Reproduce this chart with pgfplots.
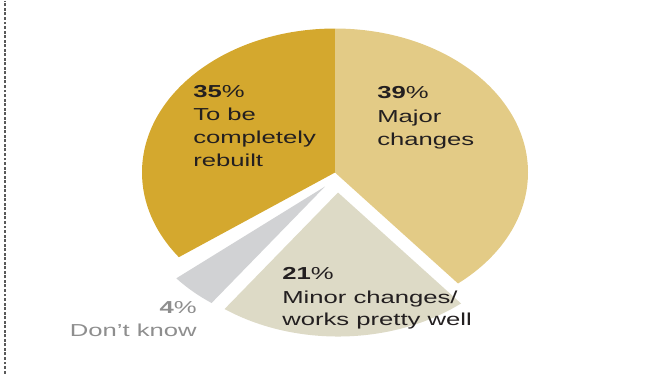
\documentclass[border=0pt]{standalone}
\usepackage{fontspec}
\setmainfont{Liberation Sans}[FakeStretch=1.48]
\usepackage{pgfplots}
\usepackage{pgfplotstable}
\pgfplotsset{compat=1.18}
\definecolor{cRebuilt}{HTML}{D4A82E}
\definecolor{cMajor}{HTML}{E3CB86}
\definecolor{cMinor}{HTML}{DDDAC6}
\definecolor{cDK}{HTML}{D1D2D4}
\definecolor{cText}{HTML}{231F20}
\definecolor{cGray}{HTML}{8E8E8E}

% slice values (percent) and explode offsets (px)
\pgfplotstableread{
label value dx dy
Major 39 0 0
Minor 21 3 -20
DK 4 -10 -14
Rebuilt 35 0 0
}\piedata

\def\cx{335}\def\cy{201}
\def\rx{193}\def\ry{144}
\newcommand\pieslice[5]{% cx cy a0 a1 color
  \fill[#5] (axis cs:#1,#2) -- (axis cs:{#1+\rx*cos(#3)},{#2+\ry*sin(#3)})
    arc[start angle=#3, end angle=#4, x radius=144.75pt, y radius=108pt] -- cycle;}

\begin{document}
\begin{tikzpicture}
\pgfplotstablegetelem{0}{value}\of\piedata \let\vMaj\pgfplotsretval
\pgfplotstablegetelem{1}{value}\of\piedata \let\vMin\pgfplotsretval
\pgfplotstablegetelem{2}{value}\of\piedata \let\vDk\pgfplotsretval
\pgfplotstablegetelem{3}{value}\of\piedata \let\vReb\pgfplotsretval
\pgfplotstablegetelem{1}{dx}\of\piedata \let\dxMin\pgfplotsretval
\pgfplotstablegetelem{1}{dy}\of\piedata \let\dyMin\pgfplotsretval
\pgfplotstablegetelem{2}{dx}\of\piedata \let\dxDk\pgfplotsretval
\pgfplotstablegetelem{2}{dy}\of\piedata \let\dyDk\pgfplotsretval
\pgfmathsetmacro\aMajE{90-3.6*\vMaj}
\pgfmathsetmacro\aMinE{\aMajE-3.6*\vMin}
\pgfmathsetmacro\aDkE{\aMinE-3.6*\vDk}
\pgfmathsetmacro\aRebE{90+3.6*\vReb}
\pgfmathsetmacro\cxMin{\cx+\dxMin}
\pgfmathsetmacro\cyMin{\cy+\dyMin}
\pgfmathsetmacro\cxDk{\cx+\dxDk}
\pgfmathsetmacro\cyDk{\cy+\dyDk}
\begin{axis}[
  scale only axis, width=504pt, height=279.75pt,
  xmin=0, xmax=672, ymin=0, ymax=373,
  hide axis, clip=false,
]
\path (rel axis cs:0,0) rectangle (rel axis cs:1,1);
\addplot[draw=black!65, line width=0.8pt, dash pattern=on 2.2pt off 1.2pt] coordinates {(5,0) (5,373)};
\pieslice{\cx}{\cy}{90}{\aRebE}{cRebuilt}
\pieslice{\cx}{\cy}{90}{\aMajE}{cMajor}
\pieslice{\cxMin}{\cyMin}{\aMajE}{\aMinE}{cMinor}
\pieslice{\cxDk}{\cyDk}{\aMinE}{\aDkE}{cDK}

\tikzset{lbl/.style={font=\fontsize{13}{15}\selectfont, text=cText, inner sep=0pt}}
\node[lbl, anchor=base west] at (axis cs:193,276) {\textbf{35}\%};
\node[lbl, anchor=base west] at (axis cs:193,253) {To be};
\node[lbl, anchor=base west] at (axis cs:193,230) {completely};
\node[lbl, anchor=base west] at (axis cs:193,207) {rebuilt};

\node[lbl, anchor=base west] at (axis cs:377,275) {\textbf{39}\%};
\node[lbl, anchor=base west] at (axis cs:377,251) {Major};
\node[lbl, anchor=base west] at (axis cs:377,228) {changes};

\node[lbl, anchor=base west] at (axis cs:282,94) {\textbf{21}\%};
\node[lbl, anchor=base west] at (axis cs:282,70) {Minor changes/};
\node[lbl, anchor=base west] at (axis cs:282,48) {works pretty well};

\node[lbl, anchor=base east, text=cGray] at (axis cs:197,60) {\textbf{4}\%};
\node[lbl, anchor=base east, text=cGray] at (axis cs:197,37) {Don’t know};
\end{axis}
\end{tikzpicture}
\end{document}
